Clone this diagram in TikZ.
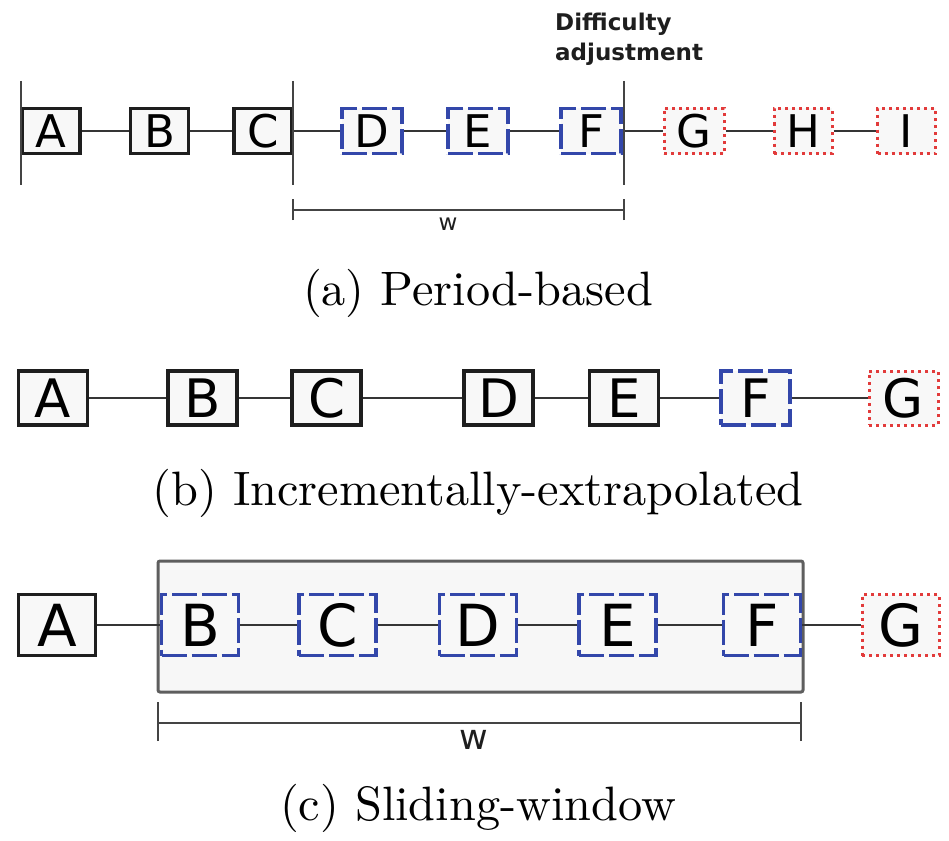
\documentclass[tikz,border=0pt]{standalone}
\usepackage{fontspec}
\usepackage{graphicx}
\newfontfamily\blkfont{DejaVu Sans}
\definecolor{blkline}{HTML}{1E1E1E}
\definecolor{newblue}{HTML}{3347AA}
\definecolor{futred}{HTML}{E23B3B}
\definecolor{boxfill}{HTML}{F8F8F8}
\definecolor{winfill}{HTML}{F7F7F7}
\definecolor{winline}{HTML}{5E5E5E}
\definecolor{markline}{HTML}{444444}
\tikzset{
  blk/.style={draw=blkline, line width=3.6pt, fill=boxfill, inner sep=0pt},
  newblk/.style={draw=newblue, line width=3.6pt, fill=boxfill, inner sep=0pt,
    dash pattern=on 25pt off 5pt},
  futblk/.style={draw=futred, line width=3pt, fill=boxfill, inner sep=0pt,
    dash pattern=on 3pt off 4pt},
  rowa/.style={minimum width=58pt, minimum height=45pt, font=\blkfont\fontsize{45}{45}\selectfont},
  rowb/.style={minimum width=69pt, minimum height=54pt, font=\blkfont\fontsize{53}{53}\selectfont},
  rowc/.style={minimum width=77pt, minimum height=61pt, font=\blkfont\fontsize{58}{58}\selectfont},
  link/.style={draw=blkline!90!white, line width=2.6pt},
  marker/.style={draw=markline, line width=2.8pt},
  window/.style={draw=winline, line width=3pt, fill=winfill, rounded corners=2pt},
  wlabel/.style={inner sep=0pt, text=blkline},
  caption/.style={inner sep=0pt, anchor=base},
}
\newcommand{\captext}[1]{\scalebox{4.83}{\fontsize{10}{12}\selectfont #1}}
\begin{document}
\begin{tikzpicture}[x=1pt,y=-1pt]
\useasboundingbox (0,0) rectangle (949,840);

% ---------- (a) period-based ----------
\node[blk,rowa]    (aA) at (51,131)    {A};
\node[blk,rowa]    (aB) at (159.5,131) {B};
\node[blk,rowa]    (aC) at (263,131)   {C};
\node[newblk,rowa,minimum width=60pt] (aD) at (372,131) {D};
\node[newblk,rowa,minimum width=60pt] (aE) at (478,131) {E};
\node[newblk,rowa,minimum width=60pt] (aF) at (591,131) {F};
\node[futblk,rowa,minimum width=60pt] (aG) at (694,131) {G};
\node[futblk,rowa,minimum width=58pt] (aH) at (803,131) {H};
\node[futblk,rowa,minimum width=58pt] (aI) at (906.5,131) {I};
\foreach \p/\q in {aA/aB,aB/aC,aC/aD,aD/aE,aE/aF,aF/aG,aG/aH,aH/aI}
  \draw[link] (\p) -- (\q);
% period boundaries
\coordinate (pa0) at (21,81);   \coordinate (pa0e) at (21,185);
\coordinate (pa1) at (293,81);  \coordinate (pa1e) at (293,185);
\coordinate (pa2) at (624,81);  \coordinate (pa2e) at (624,185);
\draw[marker] (pa0) -- (pa0e);
\draw[marker] (pa1) -- (pa1e);
\draw[marker] (pa2) -- (pa2e);
% window span
\coordinate (wa0) at (293,210); \coordinate (wa1) at (624,210);
\draw[marker] (wa0) -- (wa1);
\draw[marker] ([yshift=-10pt]wa0) -- ([yshift=11pt]wa0);
\draw[marker] ([yshift=-10pt]wa1) -- ([yshift=11pt]wa1);
\node[wlabel, font=\blkfont\fontsize{23}{23}\selectfont] (wa) at (448,224) {w};
\node[inner sep=0pt, anchor=north west, align=left,
      font=\blkfont\bfseries\fontsize{23}{30}\selectfont, text=blkline]
      (adj) at (555,13) {Difficulty\\adjustment};
\node[caption] (capa) at (478,305) {\captext{(a) Period-based}};

% ---------- (b) incrementally-extrapolated ----------
\node[blk,rowb]    (bA) at (53,398)    {A};
\node[blk,rowb]    (bB) at (202.5,398) {B};
\node[blk,rowb]    (bC) at (326.5,398) {C};
\node[blk,rowb]    (bD) at (498.5,398) {D};
\node[blk,rowb]    (bE) at (624,398)   {E};
\node[newblk,rowb] (bF) at (755.5,398) {F};
\node[futblk,rowb] (bG) at (903.5,398) {G};
\foreach \p/\q in {bA/bB,bB/bC,bC/bD,bD/bE,bE/bF,bF/bG}
  \draw[link] (\p) -- (\q);
\node[caption] (capb) at (478,505) {\captext{(b) Incrementally-extrapolated}};

% ---------- (c) sliding-window ----------
\draw[window] (158,561) rectangle (803,692);
\node[blk,rowc]    (cA) at (57,625)    {A};
\node[newblk,rowc] (cB) at (200,625)   {B};
\node[newblk,rowc] (cC) at (337.5,625) {C};
\node[newblk,rowc] (cD) at (478,625)   {D};
\node[newblk,rowc] (cE) at (617.5,625) {E};
\node[newblk,rowc] (cF) at (762,625)   {F};
\node[futblk,rowc] (cG) at (900.5,625) {G};
\foreach \p/\q in {cA/cB,cB/cC,cC/cD,cD/cE,cE/cF,cF/cG}
  \draw[link] (\p) -- (\q);
\coordinate (wc0) at (158,723); \coordinate (wc1) at (801,723);
\draw[marker] (wc0) -- (wc1);
\draw[marker] ([yshift=-18pt]wc0) -- ([yshift=21pt]wc0);
\draw[marker] ([yshift=-18pt]wc1) -- ([yshift=21pt]wc1);
\node[wlabel, font=\blkfont\fontsize{35}{35}\selectfont] (wc) at (474,740) {w};
\node[caption] (capc) at (478,820) {\captext{(c) Sliding-window}};
\end{tikzpicture}
\end{document}
